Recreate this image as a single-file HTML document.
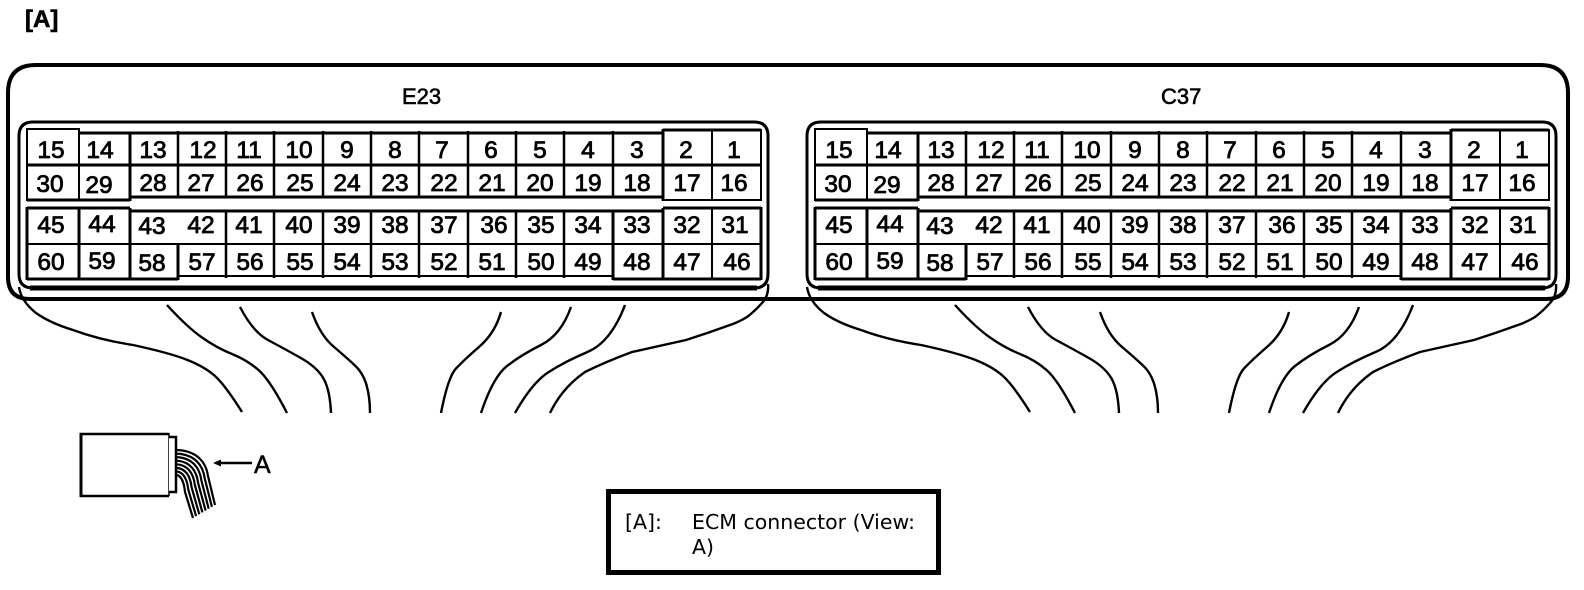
<!DOCTYPE html>
<html><head><meta charset="utf-8"><style>
html,body{margin:0;padding:0;background:#fff}
svg{display:block}
.n text{font:24.5px "Liberation Sans",sans-serif;text-anchor:middle;fill:#000;stroke:#000;stroke-width:.8}
.g path{fill:none;stroke:#000}
.w path{fill:none;stroke:#000;stroke-width:2.4}
.t{font-family:"Liberation Sans",sans-serif;fill:#000;stroke:#000;stroke-width:.6}
</style></head><body>
<svg width="1584" height="590" viewBox="0 0 1584 590" xmlns="http://www.w3.org/2000/svg">
<rect width="1584" height="590" fill="#fff"/>
<text x="25" y="27" font-size="24" font-weight="bold" class="t">[A]</text>
<path d="M36 65H1540Q1568 65 1568 93V277Q1568 299 1546 299H30Q8 299 8 277V93Q8 65 36 65Z" fill="none" stroke="#000" stroke-width="4"/>
<text x="402" y="104" font-size="22" class="t">E23</text>
<text x="1161" y="104" font-size="22" class="t">C37</text>
<g fill="none" stroke="#000">
<path d="M33 122H754Q768 122 768 136V274Q768 288 754 288H33Q19 288 19 274V136Q19 122 33 122Z" stroke-width="3"/>
<path d="M30 288H757" stroke-width="5"/>
<path d="M821 122H1542Q1556 122 1556 136V274Q1556 288 1542 288H821Q807 288 807 274V136Q807 122 821 122Z" stroke-width="3"/>
<path d="M818 288H1545" stroke-width="5"/>
</g>
<g class="g">
<path stroke-width="2" d="M27 129H79M27 128V201M79 128V201"/>
<path stroke-width="3" d="M79 133H663M27 165H761M130 197H663M27 200H130M130 132V201M663 129V201M663 130H761"/>
<path stroke-width="2" d="M663 200H761M761 129V201M712 130V200"/>
<path stroke-width="2.5" d="M178 131V197M226 131V197M274 131V197M323 131V197M371 131V197M419 131V197M468 131V197M516 131V197M564 131V197M613 131V197"/>
<path stroke-width="3" d="M27 208H130M130 211H663M663 208H761M27 207V280M79 208V279M130 208V279M613 211V280M663 208V279M761 207V280M27 279H178M613 279H761M178 244V280"/>
<path stroke-width="2" d="M27 244H761M178 276H613M712 208V279"/>
<path stroke-width="2.5" d="M226 211V278M274 211V278M323 211V278M371 211V278M419 211V278M468 211V278M516 211V278M564 211V278"/>
</g>
<g class="g" transform="translate(788 0)">
<path stroke-width="2" d="M27 129H79M27 128V201M79 128V201"/>
<path stroke-width="3" d="M79 133H663M27 165H761M130 197H663M27 200H130M130 132V201M663 129V201M663 130H761"/>
<path stroke-width="2" d="M663 200H761M761 129V201M712 130V200"/>
<path stroke-width="2.5" d="M178 131V197M226 131V197M274 131V197M323 131V197M371 131V197M419 131V197M468 131V197M516 131V197M564 131V197M613 131V197"/>
<path stroke-width="3" d="M27 208H130M130 211H663M663 208H761M27 207V280M79 208V279M130 208V279M613 211V280M663 208V279M761 207V280M27 279H178M613 279H761M178 244V280"/>
<path stroke-width="2" d="M27 244H761M178 276H613M712 208V279"/>
<path stroke-width="2.5" d="M226 211V278M274 211V278M323 211V278M371 211V278M419 211V278M468 211V278M516 211V278M564 211V278"/>
</g>
<g class="n">
<text x="51" y="158">15</text><text x="100" y="158">14</text><text x="153" y="158">13</text><text x="203" y="158">12</text><text x="249" y="158">11</text><text x="299" y="158">10</text><text x="347" y="158">9</text><text x="395" y="158">8</text><text x="442" y="158">7</text><text x="491" y="158">6</text><text x="540" y="158">5</text><text x="588" y="158">4</text><text x="637" y="158">3</text><text x="686" y="158">2</text><text x="734" y="158">1</text>
<text x="50" y="192">30</text><text x="99" y="193">29</text><text x="153" y="191">28</text><text x="201" y="191">27</text><text x="250" y="191">26</text><text x="300" y="191">25</text><text x="347" y="191">24</text><text x="395" y="191">23</text><text x="444" y="191">22</text><text x="492" y="191">21</text><text x="540" y="191">20</text><text x="588" y="191">19</text><text x="637" y="191">18</text><text x="687" y="191">17</text><text x="734" y="191">16</text>
<text x="51" y="233">45</text><text x="102" y="232">44</text><text x="152" y="234">43</text><text x="201" y="233">42</text><text x="249" y="233">41</text><text x="299" y="233">40</text><text x="347" y="233">39</text><text x="395" y="233">38</text><text x="444" y="233">37</text><text x="494" y="233">36</text><text x="541" y="233">35</text><text x="588" y="233">34</text><text x="637" y="233">33</text><text x="687" y="233">32</text><text x="735" y="233">31</text>
<text x="51" y="270">60</text><text x="102" y="269">59</text><text x="152" y="271">58</text><text x="202" y="270">57</text><text x="250" y="270">56</text><text x="300" y="270">55</text><text x="347" y="270">54</text><text x="395" y="270">53</text><text x="444" y="270">52</text><text x="492" y="270">51</text><text x="541" y="270">50</text><text x="588" y="270">49</text><text x="637" y="270">48</text><text x="687" y="270">47</text><text x="737" y="270">46</text>
</g>
<g class="n" transform="translate(788 0)">
<text x="51" y="158">15</text><text x="100" y="158">14</text><text x="153" y="158">13</text><text x="203" y="158">12</text><text x="249" y="158">11</text><text x="299" y="158">10</text><text x="347" y="158">9</text><text x="395" y="158">8</text><text x="442" y="158">7</text><text x="491" y="158">6</text><text x="540" y="158">5</text><text x="588" y="158">4</text><text x="637" y="158">3</text><text x="686" y="158">2</text><text x="734" y="158">1</text>
<text x="50" y="192">30</text><text x="99" y="193">29</text><text x="153" y="191">28</text><text x="201" y="191">27</text><text x="250" y="191">26</text><text x="300" y="191">25</text><text x="347" y="191">24</text><text x="395" y="191">23</text><text x="444" y="191">22</text><text x="492" y="191">21</text><text x="540" y="191">20</text><text x="588" y="191">19</text><text x="637" y="191">18</text><text x="687" y="191">17</text><text x="734" y="191">16</text>
<text x="51" y="233">45</text><text x="102" y="232">44</text><text x="152" y="234">43</text><text x="201" y="233">42</text><text x="249" y="233">41</text><text x="299" y="233">40</text><text x="347" y="233">39</text><text x="395" y="233">38</text><text x="444" y="233">37</text><text x="494" y="233">36</text><text x="541" y="233">35</text><text x="588" y="233">34</text><text x="637" y="233">33</text><text x="687" y="233">32</text><text x="735" y="233">31</text>
<text x="51" y="270">60</text><text x="102" y="269">59</text><text x="152" y="271">58</text><text x="202" y="270">57</text><text x="250" y="270">56</text><text x="300" y="270">55</text><text x="347" y="270">54</text><text x="395" y="270">53</text><text x="444" y="270">52</text><text x="492" y="270">51</text><text x="541" y="270">50</text><text x="588" y="270">49</text><text x="637" y="270">48</text><text x="687" y="270">47</text><text x="737" y="270">46</text>
</g>
<g class="w">
<path d="M19 287Q21 301 36 313Q50 323 73 330Q100 340 133 345Q170 353 187.500 360Q205 367 215 376Q225 385 242 412"/>
<path d="M167 305Q187 327 202 337.500Q217 348 232 354Q247 360 258.500 370Q270 380 287 413"/>
<path d="M240 307Q253 332 268 340Q283 348 300 357.500Q317 367 323.500 378.500Q330 390 331 413"/>
<path d="M312 312Q320 335 333.500 346.500Q347 358 355 365.500Q363 373 366.500 385Q370 397 370 413"/>
<path d="M501 312Q495 333 479.500 346.500Q464 360 456 368.500Q448 377 441 413"/>
<path d="M571 307Q561 335 541 345Q521 355 507 366Q493 377 481 413"/>
<path d="M625 305Q611 342 587.500 352Q564 362 548 372.500Q532 383 515 413"/>
<path d="M768 284Q769 296 762 303Q755 311 747 317Q739 322 730 325Q708 333 686 340Q659 346 632 352Q605 362 585 372Q562 388 550 413"/>
</g>
<g class="w" transform="translate(788 0)">
<path d="M19 287Q21 301 36 313Q50 323 73 330Q100 340 133 345Q170 353 187.500 360Q205 367 215 376Q225 385 242 412"/>
<path d="M167 305Q187 327 202 337.500Q217 348 232 354Q247 360 258.500 370Q270 380 287 413"/>
<path d="M240 307Q253 332 268 340Q283 348 300 357.500Q317 367 323.500 378.500Q330 390 331 413"/>
<path d="M312 312Q320 335 333.500 346.500Q347 358 355 365.500Q363 373 366.500 385Q370 397 370 413"/>
<path d="M501 312Q495 333 479.500 346.500Q464 360 456 368.500Q448 377 441 413"/>
<path d="M571 307Q561 335 541 345Q521 355 507 366Q493 377 481 413"/>
<path d="M625 305Q611 342 587.500 352Q564 362 548 372.500Q532 383 515 413"/>
<path d="M768 284Q769 296 762 303Q755 311 747 317Q739 322 730 325Q708 333 686 340Q659 346 632 352Q605 362 585 372Q562 388 550 413"/>
</g>
<!-- small connector -->
<path d="M169 434H81V496H169" fill="none" stroke="#000" stroke-width="2.500"/>
<path d="M169 433V496" fill="none" stroke="#000" stroke-width="1.500"/>
<path d="M81 433V497" fill="none" stroke="#000" stroke-width="3"/>
<path d="M169 437H176V492H169" fill="#fff" stroke="#000" stroke-width="2.500"/>
<g fill="none" stroke="#000" stroke-width="2.200">
<path d="M177 450C197 451 206 462 208 476L215 505"/>
<path d="M177 453.600C194.700 454.600 202.900 464.900 204.700 478.300L211.900 506.900"/>
<path d="M177 457.100C192.400 458.100 199.700 467.700 201.400 480.600L208.700 508.700"/>
<path d="M177 460.700C190.100 461.700 196.600 470.600 198.100 482.900L205.600 510.600"/>
<path d="M177 464.300C187.900 465.300 193.400 473.400 194.900 485.100L202.400 512.400"/>
<path d="M177 467.900C185.600 468.900 190.300 476.300 191.600 487.400L199.300 514.300"/>
<path d="M177 471.400C183.300 472.400 187.100 479.100 188.300 489.700L196.100 516.100"/>
<path d="M177 475C181 476 184 482 185 492L193 518"/>
</g>
<path d="M252 463H219" stroke="#000" stroke-width="2.500"/>
<path d="M213 463L221 459.500V466.500Z" fill="#000"/>
<text x="254" y="473" font-size="25" class="t" style="stroke-width:.5">A</text>
<!-- legend -->
<rect x="608.500" y="491.500" width="330" height="81" fill="#fff" stroke="#000" stroke-width="5"/>
<g font-family="'DejaVu Sans',sans-serif" font-size="20.500" fill="#000">
<text x="625" y="529">[A]:</text>
<text x="692" y="529" textLength="223" lengthAdjust="spacingAndGlyphs">ECM connector (View:</text>
<text x="692" y="554">A)</text>
</g>
</svg>
</body></html>
